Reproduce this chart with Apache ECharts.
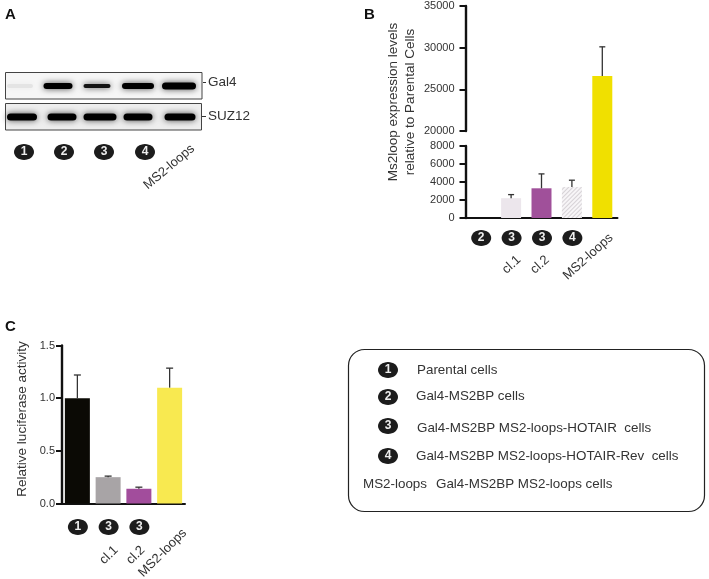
<!DOCTYPE html>
<html>
<head>
<meta charset="utf-8">
<style>html,body{margin:0;padding:0;background:#fff}#c{width:709px;height:579px}</style>
<script src="https://cdn.jsdelivr.net/npm/echarts@6/dist/echarts.min.js"></script>
</head>
<body>
<div id="c"></div>
<script>
// Panel B data
const bBadges = ['2', '3', '3', '4', ''];
const bNames = ['', 'cl.1', 'cl.2', '', 'MS2-loops'];
const bValues = [0, 2200, 3300, 3450, 26600];
const bErrTop = [null, 2600, 4900, 4200, 30100];
const bColors = ['#ece6ec', '#ece6ec', '#a0509a', '#f7f5f7', '#f0e000'];
// Panel C data
const cBadges = ['1', '3', '3', ''];
const cNames = ['', 'cl.1', 'cl.2', 'MS2-loops'];
const cValues = [1.0, 0.25, 0.14, 1.1];
const cErrTop = [1.22, 0.26, 0.155, 1.285];
const cColors = ['#0b0a05', '#a8a4a6', '#a24d9c', '#f8e950'];
// Panel A blot lanes (lane position along membrane, band width, band darkness, band thickness)
const laneGal4 = [15, 53, 92, 133, 174];
const widthGal4 = [26, 29, 27, 32, 34];
const darkGal4 = [0.03, 1, 0.92, 1, 1];
const thickGal4 = [4, 6, 4, 6, 7];
const laneSuz = [17, 57, 95, 133, 175];
const widthSuz = [30, 29, 33, 29, 31];
const darkSuz = [1, 1, 1, 1, 1];
const thickSuz = [7, 7, 7, 7, 7];
const aBadges = ['1', '2', '3', '4'];
// Legend
const legendBadges = ['1', '2', '3', '4'];
const legendTexts = ['Parental cells', 'Gal4-MS2BP cells', 'Gal4-MS2BP MS2-loops-HOTAIR  cells', 'Gal4-MS2BP MS2-loops-HOTAIR-Rev  cells'];

const FONT = '"Liberation Sans", Arial, sans-serif';
const TXT = '#333';

function ellipse(cx, cy, label) {
  return [
    { type: 'ellipse', shape: { cx, cy, rx: 10, ry: 8 }, style: { fill: '#1c1c1c' } },
    { type: 'text', x: cx, y: cy, style: { text: label, fill: '#eee', font: 'bold 12px ' + FONT, align: 'center', verticalAlign: 'middle' } }
  ];
}
function rotText(ex, ey, text, size, rot) {
  return { type: 'text', x: ex, y: ey, rotation: rot, style: { text, fill: TXT, font: size + 'px ' + FONT, align: 'right', verticalAlign: 'middle' } };
}
function errorSeries(xi, yi, err, vals, w) {
  return {
    type: 'custom', xAxisIndex: xi, yAxisIndex: yi, z: 4,
    data: err.map((e, i) => [i, e]),
    renderItem(p, api) {
      const i = p.dataIndex;
      if (err[i] === null) return null;
      const top = api.coord([i, err[i]]);
      const base = api.coord([i, vals[i]]);
      const st = { stroke: '#333', lineWidth: 1.3 };
      return { type: 'group', children: [
        { type: 'line', shape: { x1: top[0], y1: top[1], x2: base[0], y2: base[1] }, style: st },
        { type: 'line', shape: { x1: top[0] - w, y1: top[1], x2: top[0] + w, y2: top[1] }, style: st }
      ] };
    }
  };
}
const bErrTopU = bErrTop.map(e => (e !== null && e > 20000 ? e : null));
const bErrTopL = bErrTop.map(e => (e !== null && e < 20000 ? e : null));

function xAxisOf(cats, grid, show) {
  return { type: 'category', gridIndex: grid, data: cats, show,
    axisLine: { show, onZero: false, lineStyle: { color: '#111', width: 2 } },
    axisTick: { show: false }, axisLabel: { show: false } };
}
function yAxisOf(grid, min, max, interval, margin, fmt) {
  return { type: 'value', gridIndex: grid, min, max, interval,
    splitLine: { show: false },
    axisLine: { show: true, lineStyle: { color: '#111', width: 2.4 } },
    axisTick: { show: true, length: 6, lineStyle: { color: '#111', width: 2 } },
    axisLabel: { color: TXT, fontSize: 11, fontFamily: FONT, margin, formatter: fmt } };
}
function bandSeries(grid, lanes, widths, dark, thick) {
  return { type: 'custom', xAxisIndex: grid, yAxisIndex: grid, silent: true,
    data: lanes.map((l, i) => [l, 5]),
    renderItem(p, api) {
      const i = p.dataIndex, c = api.coord([api.value(0), api.value(1)]);
      const g = Math.round((1 - dark[i]) * 235);
      const t = thick[i];
      return { type: 'rect',
        shape: { x: c[0] - widths[i] / 2, y: c[1] - t / 2, width: widths[i], height: t, r: t / 2 },
        style: { fill: `rgb(${g},${g},${g})`, shadowBlur: 6, shadowColor: dark[i] > 0.5 ? 'rgba(0,0,0,.7)' : 'rgba(0,0,0,.05)' } };
    } };
}
function labelSeries(xi, yi, badges, names, badgeY, ends, size, rot) {
  return { type: 'custom', xAxisIndex: xi, yAxisIndex: yi, z: 5, silent: true,
    data: badges.map((b, i) => [i, 0]),
    renderItem(p, api) {
      const i = p.dataIndex, c = api.coord([i, 0]), kids = [];
      if (badges[i]) kids.push(...ellipse(c[0] + 0.5, badgeY, badges[i]));
      if (names[i]) kids.push(rotText(c[0] + ends[i][0], ends[i][1], names[i], size, rot));
      return { type: 'group', children: kids };
    } };
}
const G = (left, top, width, height, bg) => ({ left, top, width, height, containLabel: false,
  show: !!bg, backgroundColor: bg || 'transparent', borderWidth: 0 });

const bEnds = [[0,0],[8,258],[6,258],[0,0],[9,236]];
const cEnds = [[0,0],[8,548],[4,548],[15,531]];
const hatch = { symbol: 'rect', color: '#d6d2d6', dashArrayX: [1, 0], dashArrayY: [1, 2], rotation: -Math.PI / 4 };

const option = {
  animation: false,
  backgroundColor: '#fff',
  textStyle: { fontFamily: FONT },
  grid: [
    G(5, 73, 197, 26, '#f6f6f6'),
    G(5, 104, 197, 26, '#eeeeee'),
    G(465.5, 6, 152, 125),
    G(465.5, 131, 152, 15),
    G(465.5, 146, 152, 72),
    G(62, 345.5, 123, 158)
  ],
  xAxis: [
    { type: 'value', gridIndex: 0, min: 0, max: 197, show: false },
    { type: 'value', gridIndex: 1, min: 0, max: 197, show: false },
    xAxisOf(bNames, 2, false),
    xAxisOf(bNames, 3, false),
    xAxisOf(bNames, 4, true),
    xAxisOf(cNames, 5, true)
  ],
  yAxis: [
    { type: 'value', gridIndex: 0, min: 0, max: 10, show: false },
    { type: 'value', gridIndex: 1, min: 0, max: 10, show: false },
    yAxisOf(2, 20000, 35000, 5000, 11, v => String(v)),
    { type: 'value', gridIndex: 3, min: 8000, max: 20000, show: false },
    yAxisOf(4, 0, 8000, 2000, 11, v => String(v)),
    yAxisOf(5, 0, 1.5, 0.5, 7, v => v.toFixed(1))
  ],
  series: [
    bandSeries(0, laneGal4, widthGal4, darkGal4, thickGal4),
    bandSeries(1, laneSuz, widthSuz, darkSuz, thickSuz),
    { type: 'bar', xAxisIndex: 2, yAxisIndex: 2, barWidth: 20, itemStyle: { color: p => bColors[p.dataIndex] },
      data: bValues.map(v => (v > 20000 ? v : null)) },
    { type: 'bar', xAxisIndex: 3, yAxisIndex: 3, barWidth: 20, itemStyle: { color: p => bColors[p.dataIndex] },
      data: bValues.map(v => (v > 8000 ? v : null)) },
    { type: 'bar', xAxisIndex: 4, yAxisIndex: 4, barWidth: 20,
      data: bValues.map((v, i) => ({ value: v, itemStyle: i === 3 ? { color: bColors[i], decal: hatch } : { color: bColors[i] } })) },
    errorSeries(2, 2, bErrTopU, bValues, 3),
    errorSeries(4, 4, bErrTopL, bValues, 3),
    labelSeries(4, 4, bBadges, bNames, 238, bEnds, 13, 42 * Math.PI / 180),
    { type: 'bar', xAxisIndex: 5, yAxisIndex: 5, barWidth: 25, itemStyle: { color: p => cColors[p.dataIndex] }, data: cValues },
    errorSeries(5, 5, cErrTop, cValues, 3.5),
    labelSeries(5, 5, cBadges, cNames, 527, cEnds, 13, Math.PI / 4)
  ],
  graphic: { elements: [
    { type: 'group', silent: true, children: [
      { type: 'text', x: 5, y: 7, style: { text: 'A', font: 'bold 15px ' + FONT, fill: '#111' } },
      { type: 'text', x: 364, y: 7, style: { text: 'B', font: 'bold 15px ' + FONT, fill: '#111' } },
      { type: 'text', x: 5, y: 319, style: { text: 'C', font: 'bold 15px ' + FONT, fill: '#111' } },
      { type: 'rect', shape: { x: 5.5, y: 72.5, width: 196.5, height: 26.5 }, style: { fill: 'none', stroke: '#444', lineWidth: 1 }, z: 10 },
      { type: 'rect', shape: { x: 5.5, y: 103.5, width: 196, height: 26.5 }, style: { fill: 'none', stroke: '#444', lineWidth: 1 }, z: 10 },
      { type: 'line', shape: { x1: 203, y1: 82.5, x2: 206, y2: 82.5 }, style: { stroke: '#333', lineWidth: 1 } },
      { type: 'line', shape: { x1: 202, y1: 116.5, x2: 206, y2: 116.5 }, style: { stroke: '#333', lineWidth: 1 } },
      { type: 'text', x: 208, y: 82, style: { text: 'Gal4', font: '13.5px ' + FONT, fill: TXT, verticalAlign: 'middle' } },
      { type: 'text', x: 208, y: 116, style: { text: 'SUZ12', font: '13.5px ' + FONT, fill: TXT, verticalAlign: 'middle' } },
      ...aBadges.flatMap((b, i) => ellipse([24, 64, 104, 145][i], 152, b)),
      rotText(193, 147, 'MS2-loops', 13, 40 * Math.PI / 180),
      { type: 'text', x: 393, y: 102, rotation: Math.PI / 2, style: { text: 'Ms2loop expression levels', font: '13.5px ' + FONT, fill: TXT, align: 'center', verticalAlign: 'middle' } },
      { type: 'text', x: 410, y: 102, rotation: Math.PI / 2, style: { text: 'relative to Parental Cells', font: '13.5px ' + FONT, fill: TXT, align: 'center', verticalAlign: 'middle' } },
      { type: 'text', x: 22, y: 419, rotation: Math.PI / 2, style: { text: 'Relative luciferase activity', font: '13.5px ' + FONT, fill: TXT, align: 'center', verticalAlign: 'middle' } },
      { type: 'rect', shape: { x: 348.5, y: 349.5, width: 356, height: 162, r: 16 }, style: { fill: '#fff', stroke: '#222', lineWidth: 1.2 } },
      ...legendBadges.flatMap((b, i) => ellipse(388, [370, 397, 426, 456][i], b)),
      ...legendTexts.map((t, i) => ({ type: 'text', x: [417, 416, 417, 416][i], y: [370, 396, 428, 456][i],
        style: { text: t, font: '13.4px ' + FONT, fill: TXT, verticalAlign: 'middle' } })),
      { type: 'text', x: 363, y: 484, style: { text: 'MS2-loops', font: '13.4px ' + FONT, fill: TXT, verticalAlign: 'middle' } },
      { type: 'text', x: 436, y: 484, style: { text: 'Gal4-MS2BP MS2-loops cells', font: '13.4px ' + FONT, fill: TXT, verticalAlign: 'middle' } }
    ] }
  ] }
};
echarts.init(document.getElementById('c')).setOption(option);
</script>
</body>
</html>
